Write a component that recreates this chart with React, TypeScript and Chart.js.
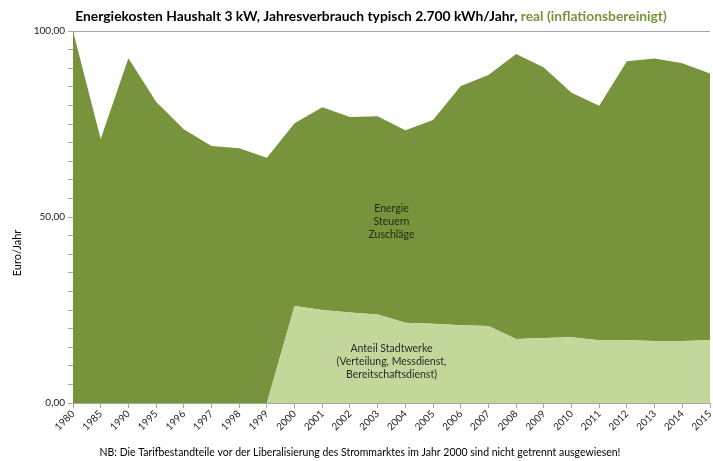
import React, { useEffect, useRef } from 'react';
import { Chart, registerables } from 'chart.js';

Chart.register(...registerables);

const years = ['1980', '1985', '1990', '1995', '1996', '1997', '1998', '1999', '2000', '2001', '2002', '2003', '2004', '2005', '2006', '2007', '2008', '2009', '2010', '2011', '2012', '2013', '2014', '2015'];

// Gesamtkosten (Oberkante der Fläche), Euro/Jahr real
const gesamt = [100, 71.0, 92.7, 81.0, 73.6, 69.1, 68.5, 65.9, 75.2, 79.5, 76.9, 77.1, 73.3, 76.1, 85.2, 88.2, 93.8, 90.2, 83.4, 79.9, 91.9, 92.6, 91.3, 88.6];

// Anteil Stadtwerke
const stadtwerke = [0, 0, 0, 0, 0, 0, 0, 0, 26.1, 25.0, 24.3, 23.8, 21.6, 21.3, 20.9, 20.7, 17.2, 17.5, 17.7, 16.9, 16.9, 16.7, 16.7, 16.9];

const yLabelValues = [0, 50, 100];

const titleBlack = 'Energiekosten Haushalt 3 kW, Jahresverbrauch typisch 2.700 kWh/Jahr, ';
const titleGreen = 'real (inflationsbereinigt)';
const yTitle = 'Euro/Jahr';
const noteText = 'NB: Die Tarifbestandteile vor der Liberalisierung des Strommarktes im Jahr 2000 sind nicht getrennt ausgewiesen!';
const upperLabel = ['Energie', 'Steuern', 'Zuschläge'];
const lowerLabel = ['Anteil Stadtwerke', '(Verteilung, Messdienst,', 'Bereitschaftsdienst)'];

const DARK = '#77933c';
const LIGHT = '#c4d79b';
const AXIS = '#a6a6a6';
const FONT = 'Lato, "Open Sans", sans-serif';

const textPlugin = {
  id: 'texts',
  afterDraw(chart: any) {
    const ctx = chart.ctx;
    const area = chart.chartArea;
    const xs = chart.scales.x;
    const ys = chart.scales.y;
    ctx.save();
    // Title with two colours, fitted to width
    let fs = 15;
    ctx.font = `bold ${fs}px ${FONT}`;
    const w0 = ctx.measureText(titleBlack + titleGreen).width;
    fs = fs * 592 / w0;
    ctx.font = `bold ${fs}px ${FONT}`;
    const wb = ctx.measureText(titleBlack).width;
    const wg = ctx.measureText(titleGreen).width;
    const tx = 371 - (wb + wg) / 2;
    ctx.textBaseline = 'middle';
    ctx.textAlign = 'left';
    ctx.fillStyle = '#000000';
    ctx.fillText(titleBlack, tx, 17);
    ctx.fillStyle = DARK;
    ctx.fillText(titleGreen, tx + wb, 17);

    // Footnote
    let fn = 11;
    ctx.font = `${fn}px ${FONT}`;
    const wn = ctx.measureText(noteText).width;
    fn = fn * 521 / wn;
    ctx.font = `${fn}px ${FONT}`;
    ctx.fillStyle = '#000000';
    ctx.textAlign = 'center';
    ctx.fillText(noteText, 360, 453);

    // Y axis title
    ctx.save();
    ctx.translate(17, (area.top + area.bottom) / 2 + 36);
    ctx.rotate(-Math.PI / 2);
    ctx.font = `11px ${FONT}`;
    ctx.fillStyle = '#000000';
    ctx.textAlign = 'center';
    ctx.fillText(yTitle, 0, 0);
    ctx.restore();

    // Area annotations
    ctx.font = `10.5px ${FONT}`;
    ctx.fillStyle = '#1f2a10';
    ctx.textAlign = 'center';
    const cx = xs.getPixelForValue(11.5);
    const y1 = ys.getPixelForValue(52.2);
    upperLabel.forEach((s, i) => ctx.fillText(s, cx, y1 + i * 13));
    ctx.fillStyle = '#2a2a2a';
    const y2 = ys.getPixelForValue(14.7);
    lowerLabel.forEach((s, i) => ctx.fillText(s, cx, y2 + i * 13));
    ctx.restore();
  },
};

export default function App() {
  const ref = useRef<HTMLCanvasElement>(null);
  useEffect(() => {
    document.body.style.margin = '0';
    const chart = new Chart(ref.current as HTMLCanvasElement, {
      type: 'line',
      data: {
        labels: years,
        datasets: [
          {
            label: 'Anteil Stadtwerke',
            data: stadtwerke,
            fill: 'origin',
            backgroundColor: LIGHT,
            borderColor: LIGHT,
            borderWidth: 0,
            pointRadius: 0,
            tension: 0,
          },
          {
            label: 'Energie, Steuern, Zuschläge',
            data: gesamt,
            fill: '-1',
            backgroundColor: DARK,
            borderColor: DARK,
            borderWidth: 0,
            pointRadius: 0,
            tension: 0,
          },
        ],
      },
      options: {
        responsive: false,
        animation: false,
        devicePixelRatio: 1,
        layout: { padding: { top: 31, left: 0, right: 3, bottom: 0 } },
        plugins: {
          legend: { display: false },
          tooltip: { enabled: false },
          title: { display: false },
        },
        scales: {
          x: {
            type: 'category',
            offset: false,
            afterFit: (s: any) => {
              s.height = 58;
              s.paddingLeft = 0;
              s.paddingRight = 0;
            },
            grid: { drawOnChartArea: false, drawTicks: true, tickLength: 5, tickColor: AXIS, color: AXIS },
            border: { display: true, color: AXIS },
            ticks: {
              autoSkip: false,
              maxRotation: 45,
              minRotation: 45,
              padding: 0,
              color: '#222222',
              font: { size: 10, family: FONT },
            },
          },
          y: {
            min: 0,
            max: 100,
            afterFit: (s: any) => {
              s.width = 73;
              s.paddingTop = 0;
              s.paddingBottom = 0;
            },
            grid: {
              drawOnChartArea: true,
              drawTicks: true,
              tickLength: 5,
              tickColor: AXIS,
              color: (c: any) => (c.tick && c.tick.value === 100 ? AXIS : 'rgba(0,0,0,0)'),
            },
            border: { display: true, color: AXIS },
            ticks: {
              stepSize: 5,
              padding: 3,
              color: '#222222',
              font: { size: 10, family: FONT },
              callback: (v: any) => (yLabelValues.includes(Number(v)) ? Number(v).toFixed(2).replace('.', ',') : ''),
            },
          },
        },
      },
      plugins: [textPlugin],
    });
    return () => chart.destroy();
  }, []);
  return (
    <div style={{ width: 713, height: 461 }}>
      <canvas ref={ref} width={713} height={461} />
    </div>
  );
}
